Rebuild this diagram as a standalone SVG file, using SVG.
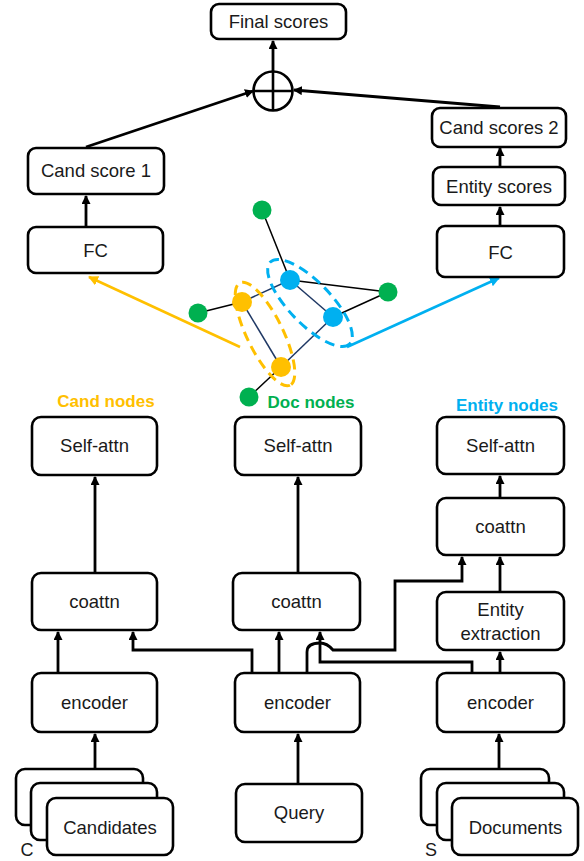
<svg xmlns="http://www.w3.org/2000/svg" width="584" height="861" viewBox="0 0 584 861">
<style>
.box{fill:#fff;stroke:#000;stroke-width:2.6}
.t{font-family:"Liberation Sans",Arial,sans-serif;font-size:18.5px;fill:#1a1a1a;text-anchor:middle}
.lbl{font-family:"Liberation Sans",Arial,sans-serif;font-size:17px;font-weight:bold;text-anchor:middle}
.c{fill:none;stroke:#000;stroke-width:2.8}
.e{stroke:#000;stroke-width:1.5}
.n{stroke:#1F3864;stroke-width:1.5}
</style>
<defs>
<marker id="ah" markerUnits="userSpaceOnUse" markerWidth="9" markerHeight="9" refX="8" refY="4.5" orient="auto"><path d="M0,0 L9,4.5 L0,9 z" fill="#000"/></marker>
<marker id="ay" markerUnits="userSpaceOnUse" markerWidth="10" markerHeight="10" refX="9" refY="5" orient="auto"><path d="M0,0 L10,5 L0,10 z" fill="#FFC000"/></marker>
<marker id="ab" markerUnits="userSpaceOnUse" markerWidth="10" markerHeight="10" refX="9" refY="5" orient="auto"><path d="M0,0 L10,5 L0,10 z" fill="#00B0F0"/></marker>
</defs>

<g id="connectors">
<path class="c" d="M273,71 V41" marker-end="url(#ah)"/>
<path class="c" d="M86,147 L253,91" marker-end="url(#ah)"/>
<path class="c" d="M500,107 L294,90" marker-end="url(#ah)"/>
<path class="c" d="M86,227 V196" marker-end="url(#ah)"/>
<path class="c" d="M500,167 V148" marker-end="url(#ah)"/>
<path class="c" d="M500,226 V207" marker-end="url(#ah)"/>
<path fill="none" stroke="#FFC000" stroke-width="2.6" d="M240,347 L89,277" marker-end="url(#ay)"/>
<path fill="none" stroke="#00B0F0" stroke-width="2.6" d="M347,347 L499,278" marker-end="url(#ab)"/>
<path class="c" d="M95,573 V477" marker-end="url(#ah)"/>
<path class="c" d="M298,573 V477" marker-end="url(#ah)"/>
<path class="c" d="M500,498 V476" marker-end="url(#ah)"/>
<path class="c" d="M58,673 V632" marker-end="url(#ah)"/>
<path class="c" d="M95,783 V734" marker-end="url(#ah)"/>
<path class="c" d="M298,784 V734" marker-end="url(#ah)"/>
<path class="c" d="M499,783 V734" marker-end="url(#ah)"/>
<path class="c" d="M279,673 V632" marker-end="url(#ah)"/>
<path class="c" d="M252,673 V650 H133 V632" marker-end="url(#ah)"/>
<path class="c" d="M307,673 V652 Q307,643 320,643 Q327,643 333,650 H395 V581 H462 V557" marker-end="url(#ah)"/>
<path class="c" d="M472,673 V662 H320 V632" marker-end="url(#ah)"/>
<path class="c" d="M500,673 V652" marker-end="url(#ah)"/>
<path class="c" d="M500,592 V557" marker-end="url(#ah)"/>
</g>

<g id="final-scores"><rect class="box" x="211" y="4" width="135" height="35" rx="8"/><text class="t" x="278.5" y="28">Final scores</text></g>
<g id="sum"><circle cx="273" cy="91" r="19.5" fill="#fff" stroke="#000" stroke-width="2.6"/><path d="M273,71.5 V110.5 M253.5,91 H292.5" stroke="#000" stroke-width="2.6"/></g>
<g id="cand-score-1"><rect class="box" x="28" y="148" width="136" height="46" rx="8"/><text class="t" x="96" y="177">Cand score 1</text></g>
<g id="cand-scores-2"><rect class="box" x="432" y="108" width="134" height="39" rx="8"/><text class="t" x="499" y="134">Cand scores 2</text></g>
<g id="entity-scores"><rect class="box" x="433" y="167" width="132" height="38" rx="8"/><text class="t" x="499" y="192.5">Entity scores</text></g>
<g id="fc-left"><rect class="box" x="28" y="227" width="135" height="46" rx="8"/><text class="t" x="95.5" y="256.5">FC</text></g>
<g id="fc-right"><rect class="box" x="437" y="226" width="127" height="51" rx="8"/><text class="t" x="500.5" y="258.5">FC</text></g>

<g id="graph">
<line class="e" x1="262" y1="210" x2="290" y2="280"/>
<line class="e" x1="290" y1="280" x2="388" y2="292"/>
<line class="e" x1="333" y1="317" x2="388" y2="292"/>
<line class="n" x1="290" y1="280" x2="333" y2="317"/>
<line class="n" x1="242" y1="302" x2="290" y2="280"/>
<line class="e" x1="198" y1="313" x2="242" y2="302"/>
<line class="n" x1="242" y1="302" x2="281" y2="367"/>
<line class="n" x1="281" y1="367" x2="333" y2="317"/>
<line class="e" x1="281" y1="367" x2="249" y2="397"/>
<circle cx="262" cy="210" r="9.5" fill="#00B050"/>
<circle cx="388" cy="292" r="9.5" fill="#00B050"/>
<circle cx="198" cy="313" r="9.5" fill="#00B050"/>
<circle cx="249" cy="397" r="9.5" fill="#00B050"/>
<circle cx="290" cy="280" r="10" fill="#00B0F0"/>
<circle cx="333" cy="317" r="10" fill="#00B0F0"/>
<circle cx="242" cy="302" r="10" fill="#FFC000"/>
<circle cx="281" cy="367" r="10" fill="#FFC000"/>
<ellipse cx="265" cy="334" rx="57" ry="18" transform="rotate(64 265 334)" fill="none" stroke="#FFC000" stroke-width="3" stroke-dasharray="10 6"/>
<ellipse cx="310" cy="303" rx="57" ry="21" transform="rotate(46 310 303)" fill="none" stroke="#00B0F0" stroke-width="3" stroke-dasharray="10 6"/>
</g>

<g id="labels">
<text class="lbl" x="106" y="407" fill="#FFC000">Cand nodes</text>
<text class="lbl" x="311" y="408" fill="#00B050">Doc nodes</text>
<text class="lbl" x="507" y="411" fill="#00B0F0">Entity nodes</text>
</g>

<g id="self-attn-left"><rect class="box" x="32" y="417" width="125" height="58" rx="9"/><text class="t" x="94.5" y="452">Self-attn</text></g>
<g id="self-attn-mid"><rect class="box" x="235" y="417" width="126" height="58" rx="9"/><text class="t" x="298" y="452">Self-attn</text></g>
<g id="self-attn-right"><rect class="box" x="437" y="417" width="127" height="57" rx="9"/><text class="t" x="500.5" y="452">Self-attn</text></g>
<g id="coattn-right"><rect class="box" x="437" y="498" width="127" height="57" rx="9"/><text class="t" x="500.5" y="533">coattn</text></g>
<g id="entity-extraction"><rect class="box" x="437" y="592" width="127" height="58" rx="9"/><text class="t" x="500.5" y="616">Entity</text><text class="t" x="500.5" y="640">extraction</text></g>
<g id="coattn-left"><rect class="box" x="32" y="573" width="125" height="57" rx="9"/><text class="t" x="94.5" y="608">coattn</text></g>
<g id="coattn-mid"><rect class="box" x="233" y="573" width="127" height="57" rx="9"/><text class="t" x="296.5" y="608">coattn</text></g>
<g id="encoder-left"><rect class="box" x="32" y="673" width="125" height="59" rx="9"/><text class="t" x="94.5" y="709">encoder</text></g>
<g id="encoder-mid"><rect class="box" x="235" y="673" width="125" height="59" rx="9"/><text class="t" x="297.5" y="709">encoder</text></g>
<g id="encoder-right"><rect class="box" x="437" y="673" width="127" height="59" rx="9"/><text class="t" x="500.5" y="709">encoder</text></g>

<g id="candidates">
<rect class="box" x="16" y="769" width="127" height="56" rx="9"/>
<rect class="box" x="31" y="783" width="126" height="57" rx="9"/>
<rect class="box" x="47" y="798" width="126" height="57" rx="9"/>
<text class="t" x="110" y="834">Candidates</text>
<text x="27" y="856" font-family="'Liberation Sans',Arial,sans-serif" font-size="18" text-anchor="middle" fill="#1a1a1a">C</text>
</g>
<g id="query"><rect class="box" x="236" y="784" width="126" height="58" rx="9"/><text class="t" x="299" y="819">Query</text></g>
<g id="documents">
<rect class="box" x="421" y="769" width="128" height="56" rx="9"/>
<rect class="box" x="437" y="783" width="127" height="57" rx="9"/>
<rect class="box" x="452" y="798" width="126" height="57" rx="9"/>
<text class="t" x="515.5" y="834">Documents</text>
<text x="431" y="856" font-family="'Liberation Sans',Arial,sans-serif" font-size="18" text-anchor="middle" fill="#1a1a1a">S</text>
</g>
</svg>
